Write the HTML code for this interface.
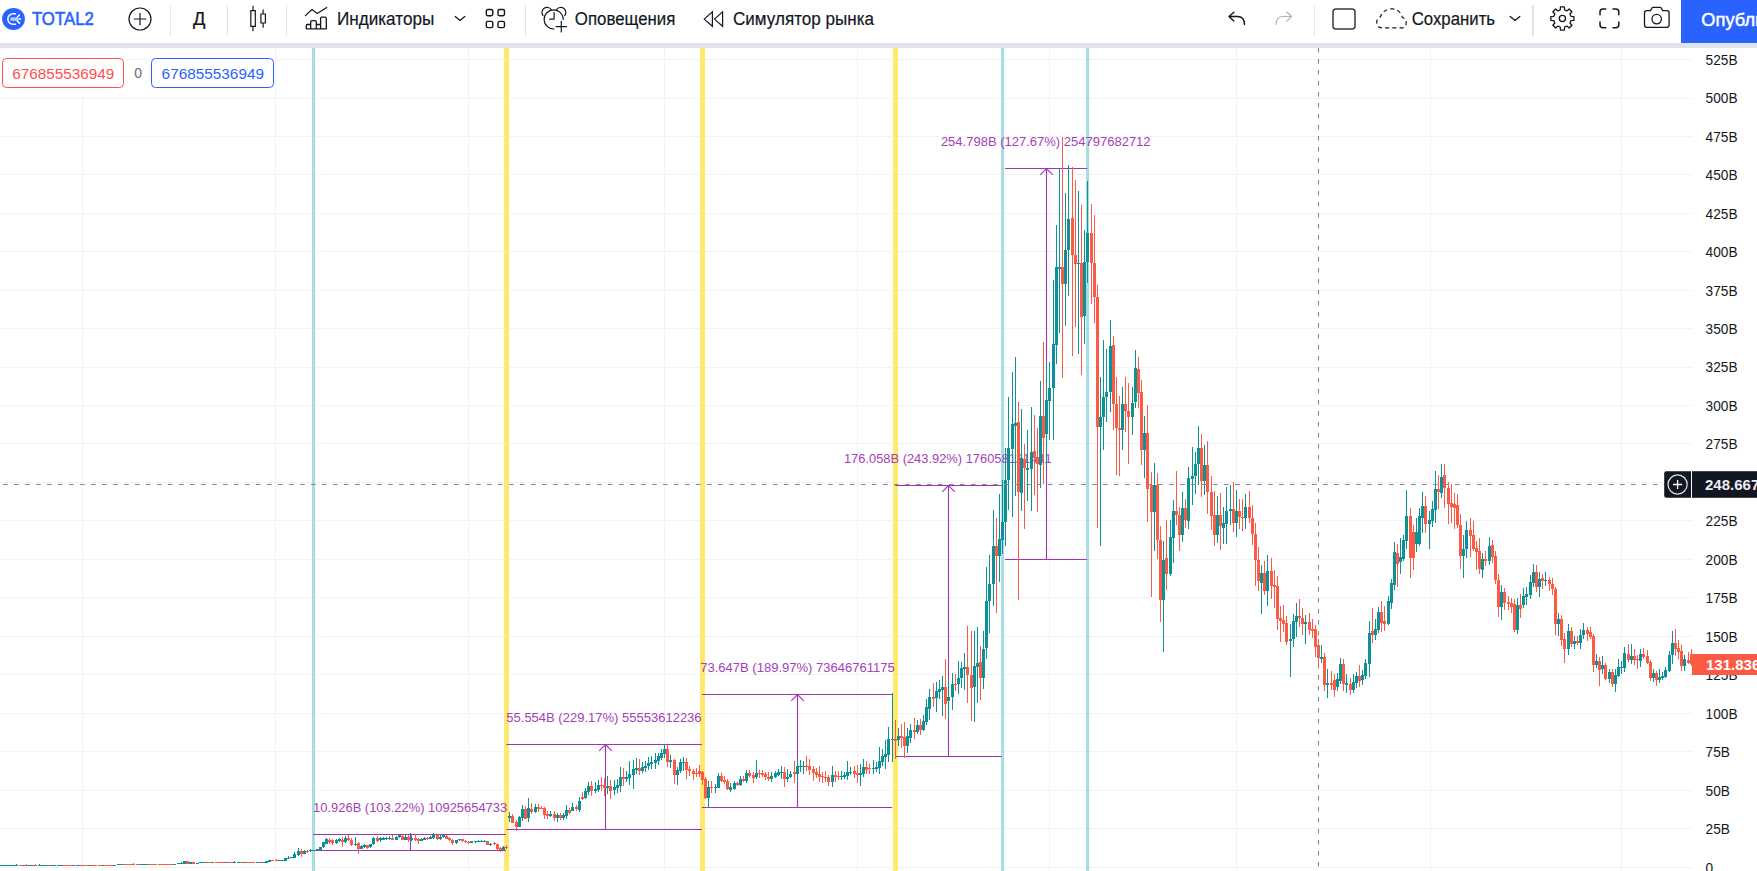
<!DOCTYPE html>
<html lang="ru"><head><meta charset="utf-8"><title>TOTAL2</title>
<style>
html,body{margin:0;padding:0;background:#fff;}
body{width:1757px;height:871px;overflow:hidden;position:relative;font-family:"Liberation Sans",sans-serif;}
#tb{position:absolute;left:0;top:0;width:1757px;height:43px;background:#fff;}
#strip{position:absolute;left:0;top:43px;width:1757px;height:5px;background:#e0e3eb;}
</style></head><body>
<svg width="1757" height="871" viewBox="0 0 1757 871" style="position:absolute;left:0;top:0" font-family="'Liberation Sans', sans-serif">
<defs><clipPath id="pane"><rect x="0" y="48" width="1692" height="823"/></clipPath></defs>
<g clip-path="url(#pane)">
<path shape-rendering="crispEdges" fill="#f2f3f7" d="M0 867h1692v1h-1692zM0 828h1692v1h-1692zM0 790h1692v1h-1692zM0 751h1692v1h-1692zM0 713h1692v1h-1692zM0 674h1692v1h-1692zM0 636h1692v1h-1692zM0 597h1692v1h-1692zM0 559h1692v1h-1692zM0 520h1692v1h-1692zM0 482h1692v1h-1692zM0 443h1692v1h-1692zM0 405h1692v1h-1692zM0 367h1692v1h-1692zM0 328h1692v1h-1692zM0 290h1692v1h-1692zM0 251h1692v1h-1692zM0 213h1692v1h-1692zM0 174h1692v1h-1692zM0 136h1692v1h-1692zM0 98h1692v1h-1692zM0 59h1692v1h-1692zM82 48h1v823h-1zM275 48h1v823h-1zM468 48h1v823h-1zM664 48h1v823h-1zM857 48h1v823h-1zM1049 48h1v823h-1zM1236 48h1v823h-1zM1430 48h1v823h-1zM1621 48h1v823h-1z"/>
<rect x="312.0" y="48" width="3" height="823" fill="#a6dde0"/>
<rect x="504.0" y="48" width="5" height="823" fill="#ffe96e"/>
<rect x="700.0" y="48" width="5" height="823" fill="#ffe96e"/>
<rect x="893.0" y="48" width="5" height="823" fill="#ffe96e"/>
<rect x="1001.1" y="48" width="3" height="823" fill="#a6dde0"/>
<rect x="1086.1" y="48" width="3" height="823" fill="#a6dde0"/>
<path d="M313.1 834.5H506.0M313.1 850.5H506.0M410.5 850.5V834.5M410.5 834.5v-1.5" stroke="#a034b4" stroke-width="1.1" fill="none"/>
<text x="313.1" y="811.7" font-size="13.6" fill="#a640b9" textLength="194.1" lengthAdjust="spacingAndGlyphs">10.926B (103.22%) 10925654733</text>
<path d="M506.3 744.5H702.0M506.3 829.5H702.0M605.5 829.5V744.5M599.2 750.8L605.5 744.5L611.8 750.8" stroke="#a034b4" stroke-width="1.1" fill="none"/>
<text x="506.3" y="722.0" font-size="13.6" fill="#a640b9" textLength="195.3" lengthAdjust="spacingAndGlyphs">55.554B (229.17%) 55553612236</text>
<path d="M701.9 694.5H892.2M701.9 807.5H892.2M797.5 807.5V694.5M791.2 700.8L797.5 694.5L803.8 700.8" stroke="#a034b4" stroke-width="1.1" fill="none"/>
<text x="700.2" y="672.2" font-size="13.6" fill="#a640b9" textLength="194.6" lengthAdjust="spacingAndGlyphs">73.647B (189.97%) 73646761175</text>
<path d="M895.3 485.5H1001.8M895.3 756.5H1001.8M948.5 756.5V485.5M942.2 491.8L948.5 485.5L954.8 491.8" stroke="#a034b4" stroke-width="1.1" fill="none"/>
<text x="843.9" y="462.9" font-size="13.6" fill="#a640b9" textLength="207.8" lengthAdjust="spacingAndGlyphs">176.058B (243.92%) 176058121441</text>
<path d="M1005.1 168.5H1087.1M1005.1 559.5H1087.1M1046.5 559.5V168.5M1040.2 174.8L1046.5 168.5L1052.8 174.8" stroke="#a034b4" stroke-width="1.1" fill="none"/>
<text x="940.9" y="146.0" font-size="13.6" fill="#a640b9" textLength="209.7" lengthAdjust="spacingAndGlyphs">254.798B (127.67%) 254797682712</text>
<g shape-rendering="crispEdges"><path fill="#0c9296" d="M0 865h3v1h-3zM3 865h3v1h-3zM6 865h3v1h-3zM9 865h3v1h-3zM12 865h3v1h-3zM16 864h1v1h-1zM15 865h3v1h-3zM22 865h3v1h-3zM28 865h3v1h-3zM31 865h3v1h-3zM39 864h1v1h-1zM38 865h3v1h-3zM41 865h3v1h-3zM44 865h3v1h-3zM50 865h3v1h-3zM53 865h3v1h-3zM57 865h3v1h-3zM60 865h3v1h-3zM72 865h3v1h-3zM76 865h3v1h-3zM88 865h3v1h-3zM101 865h3v1h-3zM113 865h3v1h-3zM117 864h3v1h-3zM120 864h3v1h-3zM139 864h3v1h-3zM142 864h3v1h-3zM145 864h3v1h-3zM173 864h3v1h-3zM177 863h3v1h-3zM181 862h1v1h-1zM180 863h3v1h-3zM183 861h3v3h-3zM189 862h3v2h-3zM196 863h3v1h-3zM199 862h3v1h-3zM202 862h3v1h-3zM211 862h3v1h-3zM224 862h3v1h-3zM234 861h1v1h-1zM233 862h3v1h-3zM237 862h3v1h-3zM243 862h3v1h-3zM256 862h3v1h-3zM262 862h3v1h-3zM265 861h3v2h-3zM268 860h3v2h-3zM278 860h3v1h-3zM281 860h3v1h-3zM284 858h3v3h-3zM288 856h1v2h-1zM287 858h3v1h-3zM290 857h3v1h-3zM294 852h1v2h-1zM293 854h3v4h-3zM298 848h1v3h-1zM298 855h1v1h-1zM297 851h3v4h-3zM304 850h1v1h-1zM303 851h3v3h-3zM310 849h1v1h-1zM310 851h1v1h-1zM309 850h3v1h-3zM312 850h3v1h-3zM316 849h3v1h-3zM319 847h3v3h-3zM323 847h1v1h-1zM322 842h3v5h-3zM326 838h1v1h-1zM325 839h3v5h-3zM336 839h1v1h-1zM336 843h1v1h-1zM335 840h3v3h-3zM339 838h1v1h-1zM339 841h1v1h-1zM338 839h3v2h-3zM345 836h1v2h-1zM345 842h1v1h-1zM344 838h3v4h-3zM355 837h1v7h-1zM355 845h1v1h-1zM354 844h3v1h-3zM361 845h1v1h-1zM360 846h3v3h-3zM364 844h1v1h-1zM364 847h1v1h-1zM363 845h3v2h-3zM370 847h1v1h-1zM369 844h3v3h-3zM373 837h1v1h-1zM373 844h1v1h-1zM372 838h3v6h-3zM380 837h1v1h-1zM380 840h1v2h-1zM379 838h3v2h-3zM383 837h1v1h-1zM382 838h3v2h-3zM386 837h1v1h-1zM386 839h1v1h-1zM385 838h3v1h-3zM389 836h1v2h-1zM389 839h1v1h-1zM388 838h3v1h-3zM396 836h1v1h-1zM395 837h3v3h-3zM399 837h1v1h-1zM398 835h3v2h-3zM405 835h1v2h-1zM404 837h3v3h-3zM411 834h1v4h-1zM411 840h1v1h-1zM410 838h3v2h-3zM421 838h1v1h-1zM420 839h3v2h-3zM424 837h1v1h-1zM423 838h3v2h-3zM430 836h1v1h-1zM429 837h3v2h-3zM433 833h1v2h-1zM433 838h1v1h-1zM432 835h3v3h-3zM440 835h1v2h-1zM440 839h1v1h-1zM439 837h3v2h-3zM443 837h1v1h-1zM442 835h3v2h-3zM456 843h1v1h-1zM455 840h3v3h-3zM459 840h1v1h-1zM458 839h3v1h-3zM470 841h3v2h-3zM475 842h1v1h-1zM474 841h3v1h-3zM478 840h1v1h-1zM477 841h3v1h-3zM481 840h1v1h-1zM480 841h3v1h-3zM484 840h1v1h-1zM483 841h3v1h-3zM490 843h1v1h-1zM490 845h1v1h-1zM489 844h3v1h-3zM503 846h1v1h-1zM502 847h3v3h-3zM509 812h1v4h-1zM509 818h1v4h-1zM508 816h3v2h-3zM519 816h1v1h-1zM518 817h3v10h-3zM522 805h1v4h-1zM522 818h1v3h-1zM521 809h3v9h-3zM528 798h1v10h-1zM528 818h1v4h-1zM527 808h3v10h-3zM535 804h1v3h-1zM535 812h1v1h-1zM534 807h3v5h-3zM550 811h1v3h-1zM550 816h1v1h-1zM549 814h3v2h-3zM557 813h1v2h-1zM557 818h1v4h-1zM556 815h3v3h-3zM563 813h1v2h-1zM563 818h1v2h-1zM562 815h3v3h-3zM566 805h1v5h-1zM566 816h1v3h-1zM565 810h3v6h-3zM572 803h1v4h-1zM571 807h3v4h-3zM579 797h1v4h-1zM579 810h1v2h-1zM578 801h3v9h-3zM585 788h1v3h-1zM585 798h1v1h-1zM584 791h3v7h-3zM588 782h1v4h-1zM588 792h1v3h-1zM587 786h3v6h-3zM595 782h1v7h-1zM595 791h1v2h-1zM594 789h3v2h-3zM598 780h1v5h-1zM598 790h1v2h-1zM597 785h3v5h-3zM607 776h1v10h-1zM607 788h1v6h-1zM606 786h3v2h-3zM614 780h1v7h-1zM614 790h1v5h-1zM613 787h3v3h-3zM617 779h1v6h-1zM617 788h1v5h-1zM616 785h3v3h-3zM620 767h1v10h-1zM620 786h1v6h-1zM619 777h3v9h-3zM626 771h1v6h-1zM626 779h1v3h-1zM625 777h3v2h-3zM629 761h1v13h-1zM629 778h1v7h-1zM628 774h3v4h-3zM633 760h1v9h-1zM633 775h1v14h-1zM632 769h3v6h-3zM636 758h1v10h-1zM636 770h1v4h-1zM635 768h3v2h-3zM642 762h1v5h-1zM642 771h1v2h-1zM641 767h3v4h-3zM645 761h1v5h-1zM645 768h1v4h-1zM644 766h3v2h-3zM648 757h1v6h-1zM648 766h1v4h-1zM647 763h3v3h-3zM651 756h1v6h-1zM651 764h1v5h-1zM650 762h3v2h-3zM655 753h1v7h-1zM655 763h1v6h-1zM654 760h3v3h-3zM658 753h1v3h-1zM658 761h1v4h-1zM657 756h3v5h-3zM661 749h1v4h-1zM661 758h1v2h-1zM660 753h3v5h-3zM664 744h1v5h-1zM664 754h1v4h-1zM663 749h3v5h-3zM670 755h1v5h-1zM670 762h1v6h-1zM669 760h3v2h-3zM677 767h1v3h-1zM677 775h1v10h-1zM676 770h3v5h-3zM680 759h1v3h-1zM680 771h1v2h-1zM679 762h3v9h-3zM683 757h1v5h-1zM683 763h1v8h-1zM682 762h3v1h-3zM708 781h1v6h-1zM708 798h1v10h-1zM707 787h3v11h-3zM715 784h1v3h-1zM715 788h1v5h-1zM714 787h3v1h-3zM718 773h1v3h-1zM717 776h3v12h-3zM730 783h1v4h-1zM730 790h1v2h-1zM729 787h3v3h-3zM734 781h1v2h-1zM734 789h1v1h-1zM733 783h3v6h-3zM740 776h1v3h-1zM740 785h1v1h-1zM739 779h3v6h-3zM746 770h1v3h-1zM746 781h1v2h-1zM745 773h3v8h-3zM756 760h1v13h-1zM756 777h1v2h-1zM755 773h3v4h-3zM771 772h1v4h-1zM771 779h1v3h-1zM770 776h3v3h-3zM775 771h1v2h-1zM775 777h1v1h-1zM774 773h3v4h-3zM778 769h1v3h-1zM778 775h1v1h-1zM777 772h3v3h-3zM781 766h1v6h-1zM781 773h1v6h-1zM780 772h3v1h-3zM787 769h1v8h-1zM787 779h1v3h-1zM786 777h3v2h-3zM790 771h1v3h-1zM790 777h1v1h-1zM789 774h3v3h-3zM797 759h1v7h-1zM797 774h1v8h-1zM796 766h3v8h-3zM800 760h1v6h-1zM800 767h1v5h-1zM799 766h3v1h-3zM803 761h1v5h-1zM803 767h1v7h-1zM802 766h3v1h-3zM832 766h1v9h-1zM832 782h1v5h-1zM831 775h3v7h-3zM841 771h1v5h-1zM841 777h1v3h-1zM840 776h3v1h-3zM844 772h1v3h-1zM844 777h1v2h-1zM843 775h3v2h-3zM847 761h1v11h-1zM847 776h1v4h-1zM846 772h3v4h-3zM850 767h1v5h-1zM850 773h1v2h-1zM849 772h3v1h-3zM860 764h1v9h-1zM860 775h1v11h-1zM859 773h3v2h-3zM863 759h1v8h-1zM863 774h1v3h-1zM862 767h3v7h-3zM873 760h1v8h-1zM873 769h1v5h-1zM872 768h3v1h-3zM876 762h1v5h-1zM876 769h1v3h-1zM875 767h3v2h-3zM879 747h1v14h-1zM879 768h1v6h-1zM878 761h3v7h-3zM882 749h1v7h-1zM882 762h1v4h-1zM881 756h3v6h-3zM885 740h1v14h-1zM885 757h1v12h-1zM884 754h3v3h-3zM888 727h1v12h-1zM888 755h1v7h-1zM887 739h3v16h-3zM892 693h1v46h-1zM892 740h1v22h-1zM891 739h3v1h-3zM898 728h1v8h-1zM898 740h1v6h-1zM897 736h3v4h-3zM907 728h1v8h-1zM907 746h1v7h-1zM906 736h3v10h-3zM910 724h1v6h-1zM910 738h1v5h-1zM909 730h3v8h-3zM917 720h1v5h-1zM917 732h1v2h-1zM916 725h3v7h-3zM923 715h1v6h-1zM923 730h1v1h-1zM922 721h3v9h-3zM926 699h1v8h-1zM926 722h1v3h-1zM925 707h3v15h-3zM929 689h1v8h-1zM929 709h1v11h-1zM928 697h3v12h-3zM936 682h1v9h-1zM936 698h1v14h-1zM935 691h3v7h-3zM939 680h1v9h-1zM939 692h1v7h-1zM938 689h3v3h-3zM942 676h1v11h-1zM942 690h1v26h-1zM941 687h3v3h-3zM948 679h1v18h-1zM948 701h1v18h-1zM947 697h3v4h-3zM952 673h1v11h-1zM952 697h1v13h-1zM951 684h3v13h-3zM958 661h1v17h-1zM958 684h1v10h-1zM957 678h3v6h-3zM961 662h1v6h-1zM961 678h1v10h-1zM960 668h3v10h-3zM964 653h1v14h-1zM964 669h1v21h-1zM963 667h3v2h-3zM974 631h1v35h-1zM974 687h1v35h-1zM973 666h3v21h-3zM977 627h1v36h-1zM977 667h1v36h-1zM976 663h3v4h-3zM983 631h1v18h-1zM983 678h1v11h-1zM982 649h3v29h-3zM986 567h1v34h-1zM986 648h1v11h-1zM985 601h3v47h-3zM989 555h1v29h-1zM989 601h1v32h-1zM988 584h3v17h-3zM993 510h1v36h-1zM993 584h1v22h-1zM992 546h3v38h-3zM999 494h1v45h-1zM999 556h1v26h-1zM998 539h3v17h-3zM1002 480h1v42h-1zM1002 540h1v14h-1zM1001 522h3v18h-3zM1005 448h1v32h-1zM1005 522h1v24h-1zM1004 480h3v42h-3zM1008 397h1v51h-1zM1008 480h1v30h-1zM1007 448h3v32h-3zM1012 372h1v52h-1zM1012 449h1v68h-1zM1011 424h3v25h-3zM1015 357h1v66h-1zM1015 426h1v70h-1zM1014 423h3v3h-3zM1021 409h1v49h-1zM1021 493h1v18h-1zM1020 458h3v35h-3zM1027 430h1v38h-1zM1027 470h1v31h-1zM1026 468h3v2h-3zM1031 407h1v45h-1zM1031 469h1v42h-1zM1030 452h3v17h-3zM1040 381h1v35h-1zM1040 465h1v23h-1zM1039 416h3v49h-3zM1046 364h1v36h-1zM1046 434h1v32h-1zM1045 400h3v34h-3zM1049 362h1v26h-1zM1049 401h1v39h-1zM1048 388h3v13h-3zM1053 280h1v64h-1zM1053 388h1v52h-1zM1052 344h3v44h-3zM1056 225h1v42h-1zM1056 345h1v19h-1zM1055 267h3v78h-3zM1059 168h1v99h-1zM1059 269h1v64h-1zM1058 267h3v2h-3zM1065 193h1v57h-1zM1065 284h1v42h-1zM1064 250h3v34h-3zM1068 165h1v54h-1zM1068 250h1v46h-1zM1067 219h3v31h-3zM1078 191h1v72h-1zM1078 264h1v90h-1zM1077 263h3v1h-3zM1084 230h1v32h-1zM1084 316h1v28h-1zM1083 262h3v54h-3zM1087 181h1v52h-1zM1087 262h1v21h-1zM1086 233h3v29h-3zM1100 377h1v40h-1zM1100 427h1v119h-1zM1099 417h3v10h-3zM1103 340h1v57h-1zM1103 417h1v33h-1zM1102 397h3v20h-3zM1106 349h1v43h-1zM1106 397h1v25h-1zM1105 392h3v5h-3zM1110 320h1v26h-1zM1110 392h1v20h-1zM1109 346h3v46h-3zM1122 387h1v17h-1zM1122 430h1v20h-1zM1121 404h3v26h-3zM1132 387h1v16h-1zM1132 417h1v18h-1zM1131 403h3v14h-3zM1135 350h1v18h-1zM1135 402h1v6h-1zM1134 368h3v34h-3zM1144 416h1v17h-1zM1144 450h1v28h-1zM1143 433h3v17h-3zM1154 463h1v22h-1zM1154 512h1v39h-1zM1153 485h3v27h-3zM1163 541h1v19h-1zM1163 600h1v52h-1zM1162 560h3v40h-3zM1170 520h1v17h-1zM1170 574h1v2h-1zM1169 537h3v37h-3zM1173 500h1v11h-1zM1173 538h1v25h-1zM1172 511h3v27h-3zM1182 492h1v16h-1zM1182 535h1v7h-1zM1181 508h3v27h-3zM1188 467h1v11h-1zM1188 521h1v8h-1zM1187 478h3v43h-3zM1192 447h1v29h-1zM1192 479h1v26h-1zM1191 476h3v3h-3zM1195 452h1v12h-1zM1195 476h1v18h-1zM1194 464h3v12h-3zM1198 426h1v22h-1zM1198 464h1v21h-1zM1197 448h3v16h-3zM1204 445h1v20h-1zM1204 481h1v14h-1zM1203 465h3v16h-3zM1217 496h1v19h-1zM1217 535h1v8h-1zM1216 515h3v20h-3zM1223 507h1v16h-1zM1223 528h1v16h-1zM1222 523h3v5h-3zM1226 487h1v24h-1zM1226 524h1v20h-1zM1225 511h3v13h-3zM1230 485h1v24h-1zM1230 511h1v14h-1zM1229 509h3v2h-3zM1236 490h1v21h-1zM1236 523h1v14h-1zM1235 511h3v12h-3zM1245 494h1v13h-1zM1245 518h1v11h-1zM1244 507h3v11h-3zM1261 565h1v8h-1zM1261 583h1v31h-1zM1260 573h3v10h-3zM1267 555h1v16h-1zM1267 591h1v15h-1zM1266 571h3v20h-3zM1290 624h1v15h-1zM1290 641h1v36h-1zM1289 639h3v2h-3zM1293 614h1v7h-1zM1293 639h1v8h-1zM1292 621h3v18h-3zM1296 603h1v13h-1zM1296 622h1v15h-1zM1295 616h3v6h-3zM1305 615h1v7h-1zM1305 624h1v20h-1zM1304 622h3v2h-3zM1321 645h1v12h-1zM1321 659h1v4h-1zM1320 657h3v2h-3zM1327 669h1v14h-1zM1327 685h1v13h-1zM1326 683h3v2h-3zM1337 673h1v6h-1zM1337 687h1v4h-1zM1336 679h3v8h-3zM1340 658h1v6h-1zM1340 681h1v3h-1zM1339 664h3v17h-3zM1346 674h1v9h-1zM1346 685h1v8h-1zM1345 683h3v2h-3zM1353 674h1v8h-1zM1353 690h1v3h-1zM1352 682h3v8h-3zM1356 672h1v4h-1zM1356 683h1v5h-1zM1355 676h3v7h-3zM1362 670h1v5h-1zM1362 680h1v5h-1zM1361 675h3v5h-3zM1365 659h1v4h-1zM1365 676h1v3h-1zM1364 663h3v13h-3zM1369 621h1v12h-1zM1369 664h1v13h-1zM1368 633h3v31h-3zM1375 619h1v10h-1zM1375 635h1v5h-1zM1374 629h3v6h-3zM1378 607h1v5h-1zM1378 630h1v3h-1zM1377 612h3v18h-3zM1388 596h1v5h-1zM1388 624h1v1h-1zM1387 601h3v23h-3zM1391 579h1v4h-1zM1391 603h1v6h-1zM1390 583h3v20h-3zM1394 542h1v10h-1zM1394 585h1v5h-1zM1393 552h3v33h-3zM1400 538h1v19h-1zM1400 562h1v12h-1zM1399 557h3v5h-3zM1403 535h1v5h-1zM1403 559h1v2h-1zM1402 540h3v19h-3zM1406 490h1v26h-1zM1406 541h1v8h-1zM1405 516h3v25h-3zM1416 518h1v14h-1zM1416 544h1v8h-1zM1415 532h3v12h-3zM1419 508h1v8h-1zM1419 544h1v2h-1zM1418 516h3v28h-3zM1422 492h1v14h-1zM1422 518h1v15h-1zM1421 506h3v12h-3zM1429 511h1v9h-1zM1429 524h1v25h-1zM1428 520h3v4h-3zM1432 501h1v8h-1zM1432 521h1v6h-1zM1431 509h3v12h-3zM1435 471h1v18h-1zM1435 510h1v13h-1zM1434 489h3v21h-3zM1441 464h1v13h-1zM1441 493h1v5h-1zM1440 477h3v16h-3zM1463 535h1v14h-1zM1463 556h1v22h-1zM1462 549h3v7h-3zM1466 521h1v9h-1zM1466 549h1v9h-1zM1465 530h3v19h-3zM1482 553h1v6h-1zM1482 570h1v8h-1zM1481 559h3v11h-3zM1489 537h1v9h-1zM1489 561h1v4h-1zM1488 546h3v15h-3zM1501 585h1v7h-1zM1501 607h1v13h-1zM1500 592h3v15h-3zM1517 598h1v7h-1zM1517 630h1v4h-1zM1516 605h3v25h-3zM1523 588h1v8h-1zM1523 605h1v3h-1zM1522 596h3v9h-3zM1526 587h1v7h-1zM1526 597h1v8h-1zM1525 594h3v3h-3zM1530 575h1v7h-1zM1530 595h1v4h-1zM1529 582h3v13h-3zM1533 564h1v8h-1zM1533 583h1v4h-1zM1532 572h3v11h-3zM1539 572h1v7h-1zM1539 587h1v10h-1zM1538 579h3v8h-3zM1545 572h1v8h-1zM1545 581h1v5h-1zM1544 580h3v1h-3zM1558 613h1v6h-1zM1558 624h1v12h-1zM1557 619h3v5h-3zM1568 624h1v7h-1zM1568 649h1v6h-1zM1567 631h3v18h-3zM1574 636h1v5h-1zM1574 644h1v5h-1zM1573 641h3v3h-3zM1580 629h1v6h-1zM1580 643h1v6h-1zM1579 635h3v8h-3zM1583 623h1v7h-1zM1583 635h1v4h-1zM1582 630h3v5h-3zM1596 654h1v7h-1zM1596 665h1v3h-1zM1595 661h3v4h-3zM1602 656h1v9h-1zM1602 669h1v5h-1zM1601 665h3v4h-3zM1609 669h1v3h-1zM1609 679h1v4h-1zM1608 672h3v7h-3zM1615 669h1v6h-1zM1615 684h1v8h-1zM1614 675h3v9h-3zM1618 659h1v8h-1zM1618 676h1v1h-1zM1617 667h3v9h-3zM1621 661h1v6h-1zM1621 668h1v6h-1zM1620 667h3v1h-3zM1624 647h1v6h-1zM1624 668h1v4h-1zM1623 653h3v15h-3zM1631 644h1v12h-1zM1631 660h1v4h-1zM1630 656h3v4h-3zM1640 649h1v5h-1zM1640 661h1v6h-1zM1639 654h3v7h-3zM1653 669h1v4h-1zM1653 678h1v4h-1zM1652 673h3v5h-3zM1659 669h1v8h-1zM1659 680h1v3h-1zM1658 677h3v3h-3zM1662 672h1v4h-1zM1662 678h1v2h-1zM1661 676h3v2h-3zM1665 667h1v3h-1zM1665 677h1v1h-1zM1664 670h3v7h-3zM1669 651h1v4h-1zM1669 671h1v1h-1zM1668 655h3v16h-3zM1672 631h1v12h-1zM1672 655h1v9h-1zM1671 643h3v12h-3zM1684 655h1v4h-1zM1684 666h1v5h-1zM1683 659h3v7h-3z"/>
<path fill="#fb5b45" d="M19 865h3v1h-3zM26 864h1v1h-1zM25 865h3v1h-3zM35 864h1v1h-1zM34 865h3v1h-3zM47 865h3v1h-3zM63 865h3v1h-3zM66 865h3v1h-3zM69 865h3v1h-3zM79 865h3v1h-3zM82 865h3v1h-3zM85 865h3v1h-3zM91 865h3v1h-3zM94 865h3v1h-3zM98 865h3v1h-3zM104 865h3v1h-3zM107 865h3v1h-3zM110 865h3v1h-3zM123 864h3v1h-3zM126 864h3v1h-3zM129 864h3v1h-3zM133 863h1v1h-1zM132 864h3v1h-3zM136 864h3v1h-3zM148 864h3v1h-3zM151 864h3v1h-3zM154 864h3v1h-3zM158 864h3v1h-3zM161 864h3v1h-3zM164 864h3v1h-3zM167 864h3v1h-3zM170 864h3v1h-3zM186 861h3v3h-3zM192 862h3v2h-3zM205 862h3v1h-3zM208 862h3v1h-3zM215 862h3v1h-3zM218 862h3v1h-3zM221 862h3v1h-3zM227 862h3v1h-3zM230 862h3v1h-3zM240 862h3v1h-3zM246 862h3v1h-3zM249 862h3v1h-3zM252 862h3v1h-3zM259 862h3v1h-3zM271 860h3v1h-3zM276 859h1v1h-1zM275 860h3v1h-3zM301 849h1v2h-1zM301 854h1v3h-1zM300 851h3v3h-3zM307 850h1v1h-1zM307 852h1v1h-1zM306 851h3v1h-3zM329 838h1v2h-1zM329 842h1v2h-1zM328 840h3v2h-3zM332 839h1v1h-1zM332 843h1v2h-1zM331 840h3v3h-3zM342 837h1v3h-1zM342 842h1v5h-1zM341 840h3v2h-3zM348 835h1v3h-1zM348 840h1v1h-1zM347 838h3v2h-3zM351 838h1v2h-1zM351 845h1v1h-1zM350 840h3v5h-3zM358 842h1v1h-1zM358 849h1v5h-1zM357 843h3v6h-3zM367 848h1v1h-1zM366 845h3v3h-3zM377 836h1v2h-1zM377 841h1v1h-1zM376 838h3v3h-3zM392 835h1v3h-1zM391 838h3v2h-3zM402 835h1v1h-1zM401 836h3v4h-3zM408 835h1v2h-1zM408 840h1v2h-1zM407 837h3v3h-3zM415 834h1v4h-1zM415 840h1v1h-1zM414 838h3v2h-3zM418 838h1v1h-1zM418 841h1v3h-1zM417 839h3v2h-3zM427 837h1v1h-1zM427 839h1v1h-1zM426 838h3v1h-3zM437 834h1v1h-1zM437 839h1v1h-1zM436 835h3v4h-3zM446 835h1v1h-1zM445 836h3v3h-3zM449 837h1v1h-1zM449 840h1v1h-1zM448 838h3v2h-3zM452 839h1v1h-1zM452 843h1v2h-1zM451 840h3v3h-3zM462 841h1v1h-1zM461 839h3v2h-3zM465 840h1v1h-1zM465 842h1v1h-1zM464 841h3v1h-3zM468 841h1v1h-1zM468 843h1v1h-1zM467 842h3v1h-3zM486 841h3v4h-3zM494 842h1v1h-1zM494 844h1v1h-1zM493 843h3v1h-3zM497 849h1v1h-1zM496 844h3v5h-3zM500 847h1v1h-1zM500 850h1v2h-1zM499 848h3v2h-3zM506 845h1v2h-1zM506 848h1v1h-1zM505 847h3v1h-3zM512 814h1v2h-1zM511 816h3v7h-3zM516 820h1v2h-1zM516 827h1v4h-1zM515 822h3v5h-3zM525 806h1v3h-1zM524 809h3v10h-3zM531 803h1v6h-1zM531 812h1v2h-1zM530 809h3v3h-3zM538 804h1v3h-1zM538 809h1v3h-1zM537 807h3v2h-3zM541 806h1v2h-1zM540 808h3v1h-3zM544 807h1v1h-1zM544 815h1v4h-1zM543 808h3v7h-3zM547 811h1v3h-1zM547 816h1v3h-1zM546 814h3v2h-3zM554 811h1v3h-1zM554 818h1v3h-1zM553 814h3v4h-3zM560 813h1v2h-1zM560 818h1v2h-1zM559 815h3v3h-3zM569 808h1v2h-1zM569 813h1v1h-1zM568 810h3v3h-3zM576 805h1v2h-1zM576 809h1v2h-1zM575 807h3v2h-3zM582 792h1v5h-1zM582 799h1v1h-1zM581 797h3v2h-3zM591 781h1v5h-1zM591 791h1v5h-1zM590 786h3v5h-3zM601 777h1v8h-1zM601 786h1v5h-1zM600 785h3v1h-3zM604 778h1v7h-1zM604 788h1v8h-1zM603 785h3v3h-3zM610 780h1v6h-1zM610 791h1v8h-1zM609 786h3v5h-3zM623 768h1v9h-1zM623 779h1v7h-1zM622 777h3v2h-3zM639 759h1v9h-1zM639 771h1v4h-1zM638 768h3v3h-3zM667 745h1v4h-1zM667 762h1v5h-1zM666 749h3v13h-3zM674 759h1v1h-1zM674 775h1v9h-1zM673 760h3v15h-3zM686 758h1v4h-1zM686 770h1v9h-1zM685 762h3v8h-3zM689 766h1v3h-1zM689 771h1v5h-1zM688 769h3v2h-3zM693 769h1v2h-1zM693 774h1v6h-1zM692 771h3v3h-3zM696 768h1v5h-1zM696 774h1v3h-1zM695 773h3v1h-3zM699 765h1v6h-1zM699 774h1v3h-1zM698 771h3v3h-3zM702 771h1v1h-1zM702 780h1v5h-1zM701 772h3v8h-3zM705 777h1v2h-1zM705 798h1v1h-1zM704 779h3v19h-3zM711 781h1v6h-1zM711 788h1v5h-1zM710 787h3v1h-3zM721 773h1v3h-1zM721 781h1v1h-1zM720 776h3v5h-3zM724 776h1v4h-1zM724 782h1v2h-1zM723 780h3v2h-3zM727 779h1v2h-1zM727 789h1v1h-1zM726 781h3v8h-3zM737 782h1v1h-1zM737 785h1v1h-1zM736 783h3v2h-3zM743 776h1v3h-1zM743 781h1v1h-1zM742 779h3v2h-3zM749 770h1v3h-1zM749 776h1v2h-1zM748 773h3v3h-3zM753 772h1v3h-1zM753 778h1v5h-1zM752 775h3v3h-3zM759 770h1v3h-1zM759 774h1v4h-1zM758 773h3v1h-3zM762 770h1v3h-1zM762 775h1v2h-1zM761 773h3v2h-3zM765 772h1v2h-1zM765 777h1v3h-1zM764 774h3v3h-3zM768 772h1v5h-1zM768 779h1v2h-1zM767 777h3v2h-3zM784 767h1v5h-1zM784 779h1v8h-1zM783 772h3v7h-3zM794 761h1v11h-1zM794 774h1v9h-1zM793 772h3v2h-3zM806 756h1v10h-1zM806 767h1v4h-1zM805 766h3v1h-3zM809 759h1v7h-1zM809 770h1v5h-1zM808 766h3v4h-3zM813 766h1v3h-1zM813 773h1v8h-1zM812 769h3v4h-3zM816 768h1v4h-1zM816 775h1v3h-1zM815 772h3v3h-3zM819 766h1v8h-1zM819 777h1v5h-1zM818 774h3v3h-3zM822 772h1v4h-1zM822 777h1v6h-1zM821 776h3v1h-3zM825 771h1v6h-1zM825 778h1v4h-1zM824 777h3v1h-3zM828 775h1v2h-1zM828 782h1v4h-1zM827 777h3v5h-3zM835 771h1v4h-1zM835 777h1v5h-1zM834 775h3v2h-3zM838 771h1v5h-1zM838 777h1v3h-1zM837 776h3v1h-3zM854 766h1v5h-1zM854 774h1v4h-1zM853 771h3v3h-3zM857 765h1v8h-1zM857 775h1v8h-1zM856 773h3v2h-3zM866 761h1v6h-1zM866 770h1v4h-1zM865 767h3v3h-3zM869 764h1v4h-1zM869 769h1v5h-1zM868 768h3v1h-3zM895 720h1v19h-1zM895 741h1v18h-1zM894 739h3v2h-3zM901 724h1v12h-1zM901 738h1v10h-1zM900 736h3v2h-3zM904 722h1v15h-1zM904 746h1v12h-1zM903 737h3v9h-3zM914 718h1v12h-1zM914 732h1v7h-1zM913 730h3v2h-3zM920 719h1v6h-1zM920 730h1v5h-1zM919 725h3v5h-3zM933 683h1v14h-1zM933 699h1v8h-1zM932 697h3v2h-3zM945 659h1v28h-1zM945 704h1v15h-1zM944 687h3v17h-3zM955 674h1v10h-1zM955 685h1v6h-1zM954 684h3v1h-3zM967 626h1v41h-1zM967 675h1v28h-1zM966 667h3v8h-3zM971 631h1v44h-1zM971 688h1v33h-1zM970 675h3v13h-3zM980 646h1v16h-1zM980 678h1v22h-1zM979 662h3v16h-3zM996 518h1v28h-1zM996 556h1v57h-1zM995 546h3v10h-3zM1018 402h1v20h-1zM1018 492h1v108h-1zM1017 422h3v70h-3zM1024 444h1v15h-1zM1024 468h1v61h-1zM1023 459h3v9h-3zM1034 415h1v36h-1zM1034 458h1v37h-1zM1033 451h3v7h-3zM1037 428h1v29h-1zM1037 464h1v48h-1zM1036 457h3v7h-3zM1043 342h1v74h-1zM1043 438h1v46h-1zM1042 416h3v22h-3zM1062 137h1v130h-1zM1062 284h1v94h-1zM1061 267h3v17h-3zM1072 167h1v51h-1zM1072 255h1v101h-1zM1071 218h3v37h-3zM1075 180h1v75h-1zM1075 264h1v63h-1zM1074 255h3v9h-3zM1081 205h1v58h-1zM1081 317h1v58h-1zM1080 263h3v54h-3zM1091 204h1v29h-1zM1091 263h1v41h-1zM1090 233h3v30h-3zM1094 215h1v48h-1zM1094 297h1v26h-1zM1093 263h3v34h-3zM1097 285h1v12h-1zM1097 427h1v101h-1zM1096 297h3v130h-3zM1113 336h1v9h-1zM1113 404h1v26h-1zM1112 345h3v59h-3zM1116 377h1v27h-1zM1116 428h1v47h-1zM1115 404h3v24h-3zM1119 396h1v32h-1zM1119 430h1v46h-1zM1118 428h3v2h-3zM1125 377h1v27h-1zM1125 411h1v21h-1zM1124 404h3v7h-3zM1128 383h1v28h-1zM1128 417h1v47h-1zM1127 411h3v6h-3zM1138 357h1v12h-1zM1138 393h1v15h-1zM1137 369h3v24h-3zM1141 380h1v12h-1zM1141 450h1v15h-1zM1140 392h3v58h-3zM1147 405h1v28h-1zM1147 489h1v33h-1zM1146 433h3v56h-3zM1151 472h1v13h-1zM1151 512h1v85h-1zM1150 485h3v27h-3zM1157 473h1v12h-1zM1157 540h1v19h-1zM1156 485h3v55h-3zM1160 526h1v14h-1zM1160 600h1v22h-1zM1159 540h3v60h-3zM1166 520h1v38h-1zM1166 574h1v16h-1zM1165 558h3v16h-3zM1176 471h1v40h-1zM1176 515h1v10h-1zM1175 511h3v4h-3zM1179 507h1v8h-1zM1179 535h1v16h-1zM1178 515h3v20h-3zM1185 499h1v9h-1zM1185 520h1v8h-1zM1184 508h3v12h-3zM1201 434h1v14h-1zM1201 481h1v16h-1zM1200 448h3v33h-3zM1207 441h1v24h-1zM1207 492h1v22h-1zM1206 465h3v27h-3zM1211 476h1v16h-1zM1211 516h1v14h-1zM1210 492h3v24h-3zM1214 491h1v24h-1zM1214 535h1v11h-1zM1213 515h3v20h-3zM1220 493h1v22h-1zM1220 526h1v24h-1zM1219 515h3v11h-3zM1233 482h1v27h-1zM1233 523h1v9h-1zM1232 509h3v14h-3zM1239 499h1v12h-1zM1239 517h1v12h-1zM1238 511h3v6h-3zM1242 499h1v18h-1zM1242 518h1v13h-1zM1241 517h3v1h-3zM1249 491h1v16h-1zM1249 518h1v5h-1zM1248 507h3v11h-3zM1252 505h1v13h-1zM1252 534h1v11h-1zM1251 518h3v16h-3zM1255 523h1v11h-1zM1255 560h1v26h-1zM1254 534h3v26h-3zM1258 547h1v13h-1zM1258 581h1v10h-1zM1257 560h3v21h-3zM1264 561h1v12h-1zM1264 591h1v4h-1zM1263 573h3v18h-3zM1271 558h1v13h-1zM1271 586h1v13h-1zM1270 571h3v15h-3zM1274 570h1v15h-1zM1274 587h1v21h-1zM1273 585h3v2h-3zM1277 576h1v10h-1zM1277 619h1v11h-1zM1276 586h3v33h-3zM1280 606h1v12h-1zM1280 621h1v21h-1zM1279 618h3v3h-3zM1283 605h1v15h-1zM1283 624h1v8h-1zM1282 620h3v4h-3zM1286 616h1v7h-1zM1286 642h1v3h-1zM1285 623h3v19h-3zM1299 599h1v17h-1zM1299 618h1v9h-1zM1298 616h3v2h-3zM1302 608h1v10h-1zM1302 624h1v11h-1zM1301 618h3v6h-3zM1309 613h1v9h-1zM1309 630h1v5h-1zM1308 622h3v8h-3zM1312 619h1v10h-1zM1312 631h1v7h-1zM1311 629h3v2h-3zM1315 625h1v4h-1zM1315 647h1v10h-1zM1314 629h3v18h-3zM1318 639h1v6h-1zM1318 658h1v10h-1zM1317 645h3v13h-3zM1324 653h1v4h-1zM1324 685h1v6h-1zM1323 657h3v28h-3zM1331 671h1v12h-1zM1331 685h1v5h-1zM1330 683h3v2h-3zM1334 674h1v6h-1zM1334 690h1v7h-1zM1333 680h3v10h-3zM1343 659h1v5h-1zM1343 684h1v7h-1zM1342 664h3v20h-3zM1350 678h1v6h-1zM1350 690h1v5h-1zM1349 684h3v6h-3zM1359 665h1v11h-1zM1359 681h1v6h-1zM1358 676h3v5h-3zM1372 608h1v23h-1zM1372 635h1v8h-1zM1371 631h3v4h-3zM1381 601h1v11h-1zM1381 623h1v9h-1zM1380 612h3v11h-3zM1384 606h1v15h-1zM1384 624h1v7h-1zM1383 621h3v3h-3zM1397 544h1v9h-1zM1397 564h1v23h-1zM1396 553h3v11h-3zM1410 508h1v8h-1zM1410 558h1v20h-1zM1409 516h3v42h-3zM1413 525h1v7h-1zM1413 558h1v12h-1zM1412 532h3v26h-3zM1425 496h1v10h-1zM1425 524h1v9h-1zM1424 506h3v18h-3zM1438 475h1v14h-1zM1438 492h1v17h-1zM1437 489h3v3h-3zM1444 464h1v11h-1zM1444 488h1v20h-1zM1443 475h3v13h-3zM1448 482h1v6h-1zM1448 504h1v20h-1zM1447 488h3v16h-3zM1451 484h1v19h-1zM1451 507h1v16h-1zM1450 503h3v4h-3zM1454 493h1v11h-1zM1454 508h1v21h-1zM1453 504h3v4h-3zM1457 494h1v11h-1zM1457 525h1v3h-1zM1456 505h3v20h-3zM1460 514h1v11h-1zM1460 556h1v13h-1zM1459 525h3v31h-3zM1470 518h1v12h-1zM1470 536h1v21h-1zM1469 530h3v6h-3zM1473 521h1v14h-1zM1473 549h1v2h-1zM1472 535h3v14h-3zM1476 541h1v7h-1zM1476 552h1v18h-1zM1475 548h3v4h-3zM1479 538h1v13h-1zM1479 569h1v5h-1zM1478 551h3v18h-3zM1485 551h1v8h-1zM1485 561h1v5h-1zM1484 559h3v2h-3zM1492 540h1v5h-1zM1492 557h1v6h-1zM1491 545h3v12h-3zM1495 551h1v5h-1zM1495 580h1v4h-1zM1494 556h3v24h-3zM1498 574h1v6h-1zM1498 607h1v10h-1zM1497 580h3v27h-3zM1504 588h1v4h-1zM1504 603h1v7h-1zM1503 592h3v11h-3zM1508 596h1v6h-1zM1508 604h1v6h-1zM1507 602h3v2h-3zM1511 598h1v5h-1zM1511 607h1v6h-1zM1510 603h3v4h-3zM1514 599h1v5h-1zM1514 630h1v2h-1zM1513 604h3v26h-3zM1520 594h1v11h-1zM1520 609h1v9h-1zM1519 605h3v4h-3zM1536 565h1v7h-1zM1536 587h1v5h-1zM1535 572h3v15h-3zM1542 574h1v4h-1zM1542 581h1v8h-1zM1541 578h3v3h-3zM1549 577h1v3h-1zM1549 584h1v7h-1zM1548 580h3v4h-3zM1552 578h1v6h-1zM1552 589h1v6h-1zM1551 584h3v5h-3zM1555 587h1v2h-1zM1555 624h1v11h-1zM1554 589h3v35h-3zM1561 615h1v4h-1zM1561 640h1v6h-1zM1560 619h3v21h-3zM1564 633h1v6h-1zM1564 649h1v14h-1zM1563 639h3v10h-3zM1571 627h1v4h-1zM1571 644h1v3h-1zM1570 631h3v13h-3zM1577 636h1v5h-1zM1577 643h1v2h-1zM1576 641h3v2h-3zM1587 627h1v3h-1zM1587 634h1v7h-1zM1586 630h3v4h-3zM1590 627h1v5h-1zM1590 637h1v2h-1zM1589 632h3v5h-3zM1593 634h1v2h-1zM1593 665h1v7h-1zM1592 636h3v29h-3zM1599 657h1v4h-1zM1599 670h1v16h-1zM1598 661h3v9h-3zM1605 663h1v2h-1zM1605 679h1v1h-1zM1604 665h3v14h-3zM1612 669h1v3h-1zM1612 684h1v3h-1zM1611 672h3v12h-3zM1628 644h1v10h-1zM1628 660h1v2h-1zM1627 654h3v6h-3zM1634 649h1v7h-1zM1634 660h1v5h-1zM1633 656h3v4h-3zM1637 655h1v4h-1zM1637 660h1v9h-1zM1636 659h3v1h-3zM1643 648h1v6h-1zM1643 657h1v2h-1zM1642 654h3v3h-3zM1647 650h1v6h-1zM1647 663h1v1h-1zM1646 656h3v7h-3zM1650 660h1v2h-1zM1650 678h1v3h-1zM1649 662h3v16h-3zM1656 671h1v2h-1zM1656 680h1v6h-1zM1655 673h3v7h-3zM1675 629h1v14h-1zM1675 649h1v7h-1zM1674 643h3v6h-3zM1678 640h1v8h-1zM1678 652h1v7h-1zM1677 648h3v4h-3zM1681 645h1v6h-1zM1681 666h1v5h-1zM1680 651h3v15h-3zM1688 652h1v8h-1zM1688 663h1v1h-1zM1687 660h3v3h-3zM1691 649h1v5h-1zM1691 664h1v2h-1zM1690 654h3v10h-3z"/></g>
<path d="M-8.1 484.5H1692" stroke="#85888f" stroke-width="1.1" stroke-dasharray="4.8 6.2" fill="none"/>
<path d="M1318.5 48V871" stroke="#85888f" stroke-width="1.1" stroke-dasharray="4.6 6.4" fill="none"/>
</g>
<text x="1705.6" y="872.6" font-size="14.4" fill="#131722" textLength="7.6" lengthAdjust="spacingAndGlyphs">0</text>
<text x="1705.6" y="834.1" font-size="14.4" fill="#131722" textLength="24.3" lengthAdjust="spacingAndGlyphs">25B</text>
<text x="1705.6" y="795.6" font-size="14.4" fill="#131722" textLength="24.3" lengthAdjust="spacingAndGlyphs">50B</text>
<text x="1705.6" y="757.2" font-size="14.4" fill="#131722" textLength="24.3" lengthAdjust="spacingAndGlyphs">75B</text>
<text x="1705.6" y="718.7" font-size="14.4" fill="#131722" textLength="31.9" lengthAdjust="spacingAndGlyphs">100B</text>
<text x="1705.6" y="680.2" font-size="14.4" fill="#131722" textLength="31.9" lengthAdjust="spacingAndGlyphs">125B</text>
<text x="1705.6" y="641.7" font-size="14.4" fill="#131722" textLength="31.9" lengthAdjust="spacingAndGlyphs">150B</text>
<text x="1705.6" y="603.3" font-size="14.4" fill="#131722" textLength="31.9" lengthAdjust="spacingAndGlyphs">175B</text>
<text x="1705.6" y="564.8" font-size="14.4" fill="#131722" textLength="31.9" lengthAdjust="spacingAndGlyphs">200B</text>
<text x="1705.6" y="526.3" font-size="14.4" fill="#131722" textLength="31.9" lengthAdjust="spacingAndGlyphs">225B</text>
<text x="1705.6" y="487.8" font-size="14.4" fill="#131722" textLength="31.9" lengthAdjust="spacingAndGlyphs">250B</text>
<text x="1705.6" y="449.4" font-size="14.4" fill="#131722" textLength="31.9" lengthAdjust="spacingAndGlyphs">275B</text>
<text x="1705.6" y="410.9" font-size="14.4" fill="#131722" textLength="31.9" lengthAdjust="spacingAndGlyphs">300B</text>
<text x="1705.6" y="372.4" font-size="14.4" fill="#131722" textLength="31.9" lengthAdjust="spacingAndGlyphs">325B</text>
<text x="1705.6" y="333.9" font-size="14.4" fill="#131722" textLength="31.9" lengthAdjust="spacingAndGlyphs">350B</text>
<text x="1705.6" y="295.5" font-size="14.4" fill="#131722" textLength="31.9" lengthAdjust="spacingAndGlyphs">375B</text>
<text x="1705.6" y="257.0" font-size="14.4" fill="#131722" textLength="31.9" lengthAdjust="spacingAndGlyphs">400B</text>
<text x="1705.6" y="218.5" font-size="14.4" fill="#131722" textLength="31.9" lengthAdjust="spacingAndGlyphs">425B</text>
<text x="1705.6" y="180.0" font-size="14.4" fill="#131722" textLength="31.9" lengthAdjust="spacingAndGlyphs">450B</text>
<text x="1705.6" y="141.6" font-size="14.4" fill="#131722" textLength="31.9" lengthAdjust="spacingAndGlyphs">475B</text>
<text x="1705.6" y="103.1" font-size="14.4" fill="#131722" textLength="31.9" lengthAdjust="spacingAndGlyphs">500B</text>
<text x="1705.6" y="64.6" font-size="14.4" fill="#131722" textLength="31.9" lengthAdjust="spacingAndGlyphs">525B</text>
<rect x="1692" y="654" width="65" height="21" fill="#fb5b45"/>
<text x="1706" y="669.6" font-size="15" font-weight="bold" fill="#fff">131.836</text>
<path d="M1666.2 471.2H1691V497.8H1666.2A2 2 0 0 1 1664.2 495.8V473.2A2 2 0 0 1 1666.2 471.2Z" fill="#131722"/>
<rect x="1692" y="471.2" width="65" height="26.6" fill="#131722"/>
<circle cx="1677.6" cy="484.5" r="9.6" fill="none" stroke="#e6e6ee" stroke-width="1.2"/><path d="M1673 484.5h9.2M1677.6 479.9v9.2" stroke="#fff" stroke-width="1.3"/>
<text x="1705" y="490" font-size="15" font-weight="bold" fill="#ececf2">248.667</text>
<rect x="0" y="48" width="127.5" height="48.5" fill="#fff"/><rect x="150" y="48" width="124.5" height="48.5" fill="#fff"/>
<rect x="2.5" y="58.5" width="121" height="29" rx="4" fill="#fff" stroke="#ff4d4d" stroke-width="1"/>
<text x="12.2" y="78.6" font-size="15" fill="#ff4d4d" textLength="102.2" lengthAdjust="spacingAndGlyphs">676855536949</text>
<text x="134.3" y="77.9" font-size="14" fill="#6a6d78">0</text>
<rect x="151.5" y="58.5" width="122" height="29" rx="4" fill="#fff" stroke="#2962ff" stroke-width="1"/>
<text x="161.6" y="78.6" font-size="15" fill="#2962ff" textLength="102.4" lengthAdjust="spacingAndGlyphs">676855536949</text>
</svg>
<div id="tb"></div><div id="strip"></div>
<svg width="1757" height="43" viewBox="0 0 1757 43" style="position:absolute;left:0;top:0" font-family="'Liberation Sans', sans-serif" fill="none" stroke-linecap="round" stroke-linejoin="round">
<rect x="169.9" y="5" width="1" height="31" fill="#e0e3eb"/>
<rect x="226.9" y="5" width="1" height="31" fill="#e0e3eb"/>
<rect x="286.0" y="5" width="1" height="31" fill="#e0e3eb"/>
<rect x="525.0" y="5" width="1" height="31" fill="#e0e3eb"/>
<rect x="1313.9" y="5" width="1" height="31" fill="#e0e3eb"/>
<rect x="1532" y="5" width="2" height="31" fill="#e0e3eb"/>
<ellipse cx="13.5" cy="18.9" rx="11.4" ry="11" fill="#2962ff"/>
<path d="M16 13.85H13A5.2 5.2 0 0 0 13 24.25H16" stroke="#fff" stroke-width="1.5" stroke-linecap="butt"/>
<rect x="10" y="17.2" width="8.2" height="3.7" rx="1.8" fill="#9db6ff"/>
<path d="M10.8 19.05H19" stroke="#c3d2ff" stroke-width="1.2"/>
<path d="M17.2 17.2L19.4 15M19.3 19.05H20.6M17.2 20.9L19.4 23.1" stroke="#fff" stroke-width="1.5"/>
<text x="31.9" y="25" font-size="18.2" fill="#2962ff" stroke="#2962ff" stroke-width="0.55" textLength="62" lengthAdjust="spacingAndGlyphs">TOTAL2</text>
<circle cx="140" cy="19" r="11" stroke="#131722" stroke-width="1.2"/><path d="M134.2 19h11.6M140 13.3v11.5" stroke="#131722" stroke-width="1.2"/>
<text x="193" y="25" font-size="18.3" fill="#131722" stroke="#131722" stroke-width="0.2" textLength="12.4" lengthAdjust="spacingAndGlyphs">Д</text>
<path d="M253 6.2v4.4M253 26.3v4.4M250.8 10.6h4.5v15.7h-4.5zM263.1 9.8v4.2M263.1 23v4.2M260.9 14h4.5v9h-4.5z" stroke="#131722" stroke-width="1.2" stroke-linejoin="miter"/>
<path d="M305.4 15.6L312 9.5L317.2 13.5L326.7 7.5" stroke="#131722" stroke-width="1.2"/>
<path d="M306.3 28.8h20M306.3 28.8v-3.3q0-1 1-1h3.4v4.3M310.7 24.5v-2.6q0-1.2 1.2-1.2h3.2q1.2 0 1.2 1.2v6.9M316.3 24.5h4.3v4.3M320.6 24.5v-6.2q0-1.2 1.2-1.2h3.3q1.2 0 1.2 1.2v10.5" stroke="#131722" stroke-width="1.3"/>
<text x="336.9" y="25" font-size="18.3" fill="#131722" stroke="#131722" stroke-width="0.2" textLength="97.4" lengthAdjust="spacingAndGlyphs">Индикаторы</text>
<path d="M455.3 16.4L460 20.4L464.8 16.4" stroke="#131722" stroke-width="1.3"/>
<rect x="486.3" y="9.5" width="6.5" height="6.2" rx="1.6" stroke="#131722" stroke-width="1.4"/>
<rect x="498" y="9.5" width="6.5" height="6.2" rx="1.6" stroke="#131722" stroke-width="1.4"/>
<rect x="486.3" y="21.4" width="6.5" height="6.2" rx="1.6" stroke="#131722" stroke-width="1.4"/>
<rect x="498" y="21.4" width="6.5" height="6.2" rx="1.6" stroke="#131722" stroke-width="1.4"/>
<path d="M554.1 29A9.6 9.6 0 1 1 563.3 19.4M542.9 15.4A4.4 4.4 0 0 1 551.2 9.6M556.6 9.6A4.4 4.4 0 0 1 564.9 15.4M554.1 12.5V19.1H549.7M561.3 21.3v10.6M556 26.6h10.6" stroke="#131722" stroke-width="1.2"/>
<text x="574.8" y="25" font-size="18.3" fill="#131722" stroke="#131722" stroke-width="0.2" textLength="100.6" lengthAdjust="spacingAndGlyphs">Оповещения</text>
<path d="M704.2 19.1L712.4 11.9V26.3ZM714.5 19.1L722.6 11.9V26.3Z" stroke="#131722" stroke-width="1.2" stroke-linejoin="miter"/>
<text x="733" y="25" font-size="18.3" fill="#131722" stroke="#131722" stroke-width="0.2" textLength="141" lengthAdjust="spacingAndGlyphs">Симулятор рынка</text>
<path d="M1233.8 12.2L1229 16.5L1233.8 21M1229 16.5H1237.5Q1244.4 16.5 1244.5 24.5" stroke="#131722" stroke-width="1.4"/>
<path d="M1287 12.2L1291.6 16.5L1287 21M1291.6 16.5H1283Q1276.2 16.5 1276.1 24.5" stroke="#b2b5be" stroke-width="1.2"/>
<rect x="1333" y="8.9" width="22" height="20.2" rx="3" stroke="#363a45" stroke-width="1.5"/>
<path d="M1382 27.9C1378.5 27.9 1376.7 25.2 1376.7 22.5C1376.7 19.5 1378.5 17.5 1380.5 16.7C1382 12 1386.5 8.8 1392 8.8C1397.5 8.8 1401 12.5 1402.3 17.3C1404.8 18.3 1406.2 20.5 1406.2 23C1406.2 25.8 1404.5 27.9 1402 27.9Z" stroke="#131722" stroke-width="1.2" stroke-dasharray="4 3.2" stroke-linecap="butt"/>
<text x="1411.7" y="25" font-size="18.3" fill="#131722" stroke="#131722" stroke-width="0.2" textLength="83.4" lengthAdjust="spacingAndGlyphs">Сохранить</text>
<path d="M1510.2 16.4L1515 20.4L1519.8 16.4" stroke="#131722" stroke-width="1.3"/>
<path d="M1560.20 9.98 L1560.47 6.96 L1564.33 6.96 L1564.60 9.98 L1566.87 10.92 L1569.19 8.97 L1571.93 11.71 L1569.98 14.03 L1570.92 16.30 L1573.94 16.57 L1573.94 20.43 L1570.92 20.70 L1569.98 22.97 L1571.93 25.29 L1569.19 28.03 L1566.87 26.08 L1564.60 27.02 L1564.33 30.04 L1560.47 30.04 L1560.20 27.02 L1557.93 26.08 L1555.61 28.03 L1552.87 25.29 L1554.82 22.97 L1553.88 20.70 L1550.86 20.43 L1550.86 16.57 L1553.88 16.30 L1554.82 14.03 L1552.87 11.71 L1555.61 8.97 L1557.93 10.92Z" stroke="#131722" stroke-width="1.3"/><circle cx="1562.4" cy="18.5" r="3.1" stroke="#131722" stroke-width="1.3"/>
<path d="M1600 14.8V11.9Q1600 8.9 1603 8.9H1605.8M1613 8.9H1615.8Q1618.8 8.9 1618.8 11.9V14.8M1618.8 22V24.8Q1618.8 27.8 1615.8 27.8H1613M1605.8 27.8H1603Q1600 27.8 1600 24.8V22" stroke="#131722" stroke-width="1.5"/>
<path d="M1646.9 10.6h3.6l1.3-2.4q.4-.8 1.3-.8h7q.9 0 1.3.8l1.3 2.4h4a2.4 2.4 0 0 1 2.4 2.4v12a2.4 2.4 0 0 1-2.4 2.4h-19.8a2.4 2.4 0 0 1-2.4-2.4v-12a2.4 2.4 0 0 1 2.4-2.4z" stroke="#131722" stroke-width="1.3"/><circle cx="1656.7" cy="19.1" r="4.7" stroke="#131722" stroke-width="1.3"/>
<rect x="1681" y="0" width="76" height="43" fill="#2962ff"/>
<text x="1701.3" y="25.6" font-size="18.3" fill="#fff" stroke="#fff" stroke-width="0.45">Опубликовать</text>
</svg>
</body></html>
